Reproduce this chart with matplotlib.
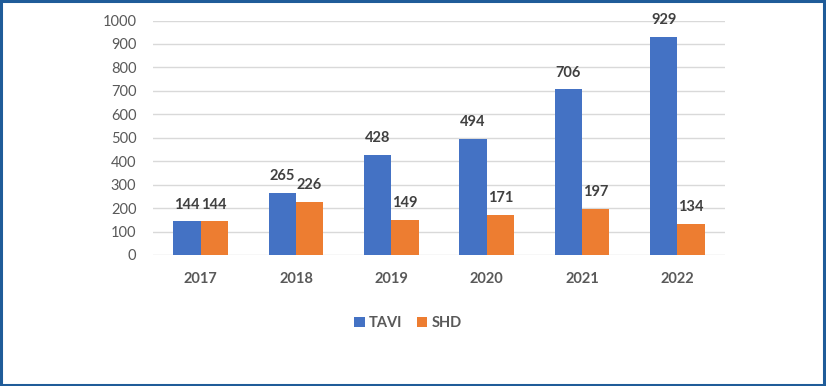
import matplotlib
matplotlib.use("Agg")
import matplotlib.pyplot as plt
from matplotlib.patches import Rectangle
import numpy as np

years = ["2017", "2018", "2019", "2020", "2021", "2022"]
tavi = [144, 265, 428, 494, 706, 929]
shd = [144, 226, 149, 171, 197, 134]
yticks = list(range(0, 1001, 100))

plt.rcParams['font.family'] = ['Lato', 'DejaVu Sans']

fig = plt.figure(figsize=(8.26, 3.86), dpi=100)
ax = fig.add_axes([153/826, 131/386, 572/826, 234.5/386])

x = np.arange(len(years))
w = 0.285
b1 = ax.bar(x - w/2, tavi, w, color="#4472C4", label="TAVI", zorder=3)
b2 = ax.bar(x + w/2, shd, w, color="#ED7D31", label="SHD", zorder=3)

for bars in (b1, b2):
    ax.bar_label(bars, padding=7, fontsize=10.5, fontweight='bold', color="#404040")

ax.set_xlim(-0.5, len(years) - 0.5)
ax.set_ylim(0, 1000)
ax.set_yticks(yticks)
ax.set_xticks(x)
ax.set_xticklabels(years, fontweight='bold')
ax.tick_params(axis='y', length=0, pad=12, labelsize=10.5, labelcolor="#595959")
ax.tick_params(axis='x', length=0, pad=12, labelsize=10.5, labelcolor="#595959")
ax.grid(axis='y', color="#D9D9D9", linewidth=1, zorder=0)
for s in ax.spines.values():
    s.set_visible(False)

leg = fig.legend(handles=[b1, b2], labels=["TAVI", "SHD"], loc='center',
                 bbox_to_anchor=(408/826, 1 - 323/386), ncol=2, frameon=False,
                 handlelength=0.7, handleheight=0.7, handletextpad=0.3,
                 columnspacing=1.0, prop={'size': 10.5, 'weight': 'bold'})
for t in leg.get_texts():
    t.set_color("#595959")

fig.patches.append(Rectangle((0.0015, 0.003), 0.996, 0.994, transform=fig.transFigure,
                             fill=False, edgecolor="#1F5C99", linewidth=2.2))

fig.savefig("out.png", dpi=100)
